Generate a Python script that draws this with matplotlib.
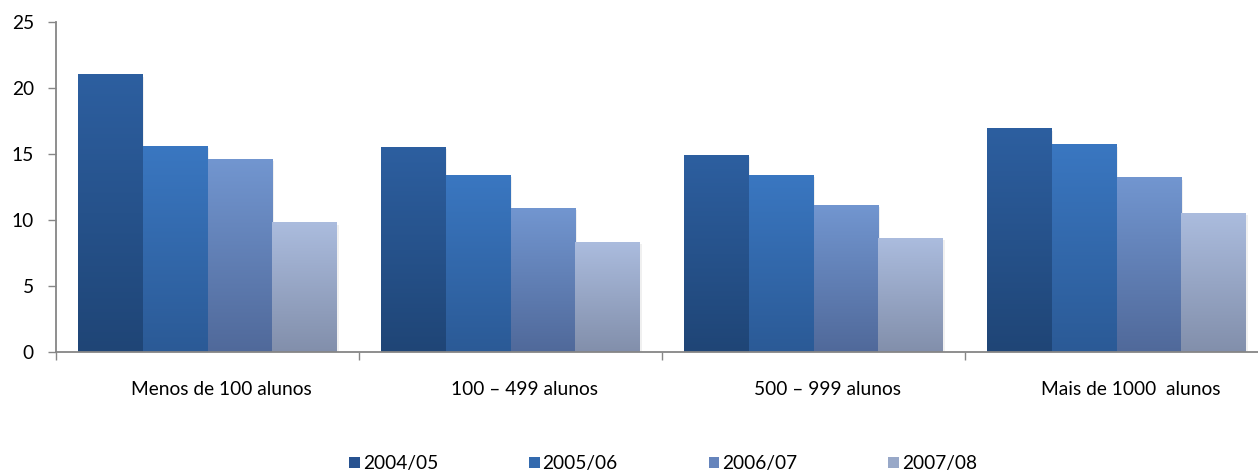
import numpy as np
import matplotlib
matplotlib.use("Agg")
import matplotlib.pyplot as plt
from matplotlib.colors import LinearSegmentedColormap
from matplotlib.patches import Patch

plt.rcParams['font.family'] = ['Lato', 'DejaVu Sans']

categories = ["Menos de 100 alunos", "100 \u2013 499 alunos", "500 \u2013 999 alunos", "Mais de 1000  alunos"]
series = ["2004/05", "2005/06", "2006/07", "2007/08"]
v_2004 = [21.0, 15.5, 14.9, 16.9]
v_2005 = [15.6, 13.4, 13.4, 15.7]
v_2006 = [14.6, 10.9, 11.1, 13.2]
v_2007 = [9.8, 8.3, 8.6, 10.5]
values = [v_2004, v_2005, v_2006, v_2007]

# (top colour, bottom colour) per series
grads = [("#2D5FA0", "#1F4576"),
         ("#3A77C1", "#2B5A96"),
         ("#7296D0", "#50699A"),
         ("#ABBCDE", "#828FAB")]
legend_cols = ["#275290", "#336AAE", "#6584BC", "#98A8C8"]

W, H = 1258, 474
fig = plt.figure(figsize=(W / 100, H / 100), dpi=100)
x0, x1 = 56, 1268
y0, y1 = 352, 22
ax = fig.add_axes([x0 / W, 1 - y0 / H, (x1 - x0) / W, (y0 - y1) / H])

bw = 0.2145
n = len(series)
grad = np.linspace(0, 1, 256).reshape(-1, 1)
for s in range(n):
    cmap = LinearSegmentedColormap.from_list("g%d" % s, [grads[s][1], grads[s][0]])
    for i, v in enumerate(values[s]):
        left = i - n * bw / 2 + s * bw
        # soft shadow
        ax.bar(left + 0.006, v, width=bw, bottom=-0.15, align='edge',
               color="#000000", alpha=0.06, zorder=1, linewidth=0)
        ax.imshow(grad, extent=[left, left + bw, 0, v], origin='lower',
                  cmap=cmap, aspect='auto', zorder=2 + s, interpolation='bilinear')

ax.set_xlim(-0.5, len(categories) - 0.5)
ax.set_ylim(0, 25)
ax.set_aspect('auto')

for sp in ['top', 'right']:
    ax.spines[sp].set_visible(False)
for sp in ['left', 'bottom']:
    ax.spines[sp].set_color("#868686")
    ax.spines[sp].set_linewidth(1.3)
    ax.spines[sp].set_zorder(10)

fs = 13.8
ax.set_yticks(np.arange(0, 26, 5))
ax.tick_params(axis='y', length=6, width=1, color="#868686", labelsize=fs, pad=10)
ax.set_xticks(np.arange(-0.5, len(categories), 1.0))
ax.set_xticklabels([])
ax.tick_params(axis='x', which='major', length=6, width=1, color="#868686")
ax.set_xticks(np.arange(len(categories)) + 0.046, minor=True)
ax.set_xticklabels(categories, minor=True)
ax.tick_params(axis='x', which='minor', length=0, labelsize=fs, pad=21)

handles = [Patch(facecolor=c, edgecolor='none') for c in legend_cols]
fig.legend(handles, series, loc='center', bbox_to_anchor=(663 / W, 1 - 464 / H),
           ncol=4, frameon=False, fontsize=fs, handlelength=0.55, handleheight=0.55,
           handletextpad=0.15, columnspacing=4.75)

fig.savefig("out.png", dpi=100)
